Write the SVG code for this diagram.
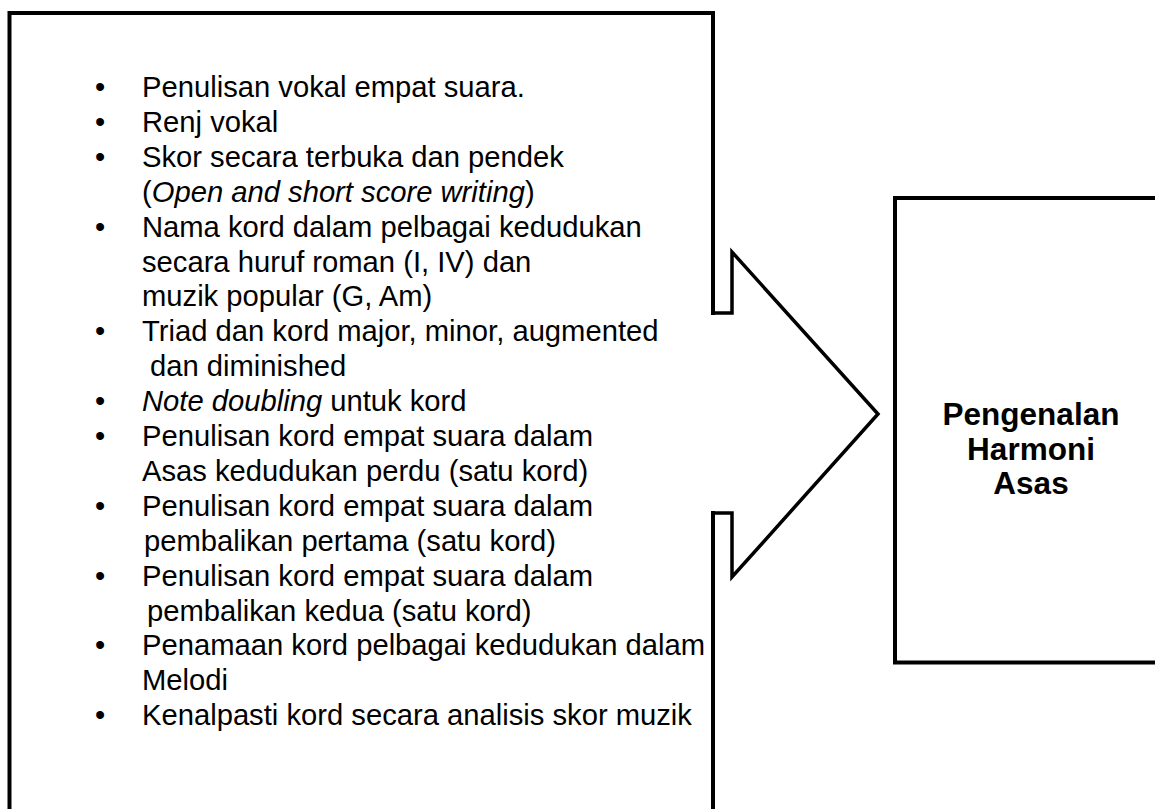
<svg xmlns="http://www.w3.org/2000/svg" width="1155" height="809" viewBox="0 0 1155 809">
<style>
.frame{fill:none;stroke:#000;stroke-width:4;stroke-linecap:square;stroke-linejoin:miter}
.arrow{fill:none;stroke:#000;stroke-width:3.5;stroke-linecap:square;stroke-linejoin:miter}
.t{font-family:"Liberation Sans",Arial,sans-serif;font-size:29.2px;fill:#000}
.b{text-anchor:middle}
.h{font-family:"Liberation Sans",Arial,sans-serif;font-size:31.5px;font-weight:bold;fill:#000;text-anchor:middle}
.i{font-style:italic}
</style>
<rect width="1155" height="809" fill="#fff"/>
<g id="content-box">
<path class="frame" d="M713,313 V13 H9.5 V830 H713 V513"/>
<g class="t">
<text class="b" x="100" y="97">•</text><text x="142" y="97">Penulisan vokal empat suara.</text>
<text class="b" x="100" y="131.9">•</text><text x="142" y="131.9">Renj vokal</text>
<text class="b" x="100" y="166.8">•</text><text x="142" y="166.8">Skor secara terbuka dan pendek</text>
<text x="142" y="201.7">(<tspan class="i">Open and short score writing</tspan>)</text>
<text class="b" x="100" y="236.6">•</text><text x="142" y="236.6">Nama kord dalam pelbagai kedudukan</text>
<text x="142" y="271.5">secara huruf roman (I, IV) dan</text>
<text x="142" y="306.4">muzik popular (G, Am)</text>
<text class="b" x="100" y="341.3">•</text><text x="142" y="341.3">Triad dan kord major, minor, augmented</text>
<text x="150" y="376.2">dan diminished</text>
<text class="b" x="100" y="411.1">•</text><text x="142" y="411.1"><tspan class="i">Note doubling</tspan> untuk kord</text>
<text class="b" x="100" y="446">•</text><text x="142" y="446">Penulisan kord empat suara dalam</text>
<text x="142" y="480.9">Asas kedudukan perdu (satu kord)</text>
<text class="b" x="100" y="515.8">•</text><text x="142" y="515.8">Penulisan kord empat suara dalam</text>
<text x="144" y="550.7">pembalikan pertama (satu kord)</text>
<text class="b" x="100" y="585.6">•</text><text x="142" y="585.6">Penulisan kord empat suara dalam</text>
<text x="147" y="620.5">pembalikan kedua (satu kord)</text>
<text class="b" x="100" y="655.4">•</text><text x="142" y="655.4">Penamaan kord pelbagai kedudukan dalam</text>
<text x="142" y="690.3">Melodi</text>
<text class="b" x="100" y="725.2">•</text><text x="142" y="725.2">Kenalpasti kord secara analisis skor muzik</text>
</g>
</g>
<g id="connectors">
<path class="arrow" d="M713,313 H732 V252 L878,414 L732,577 V513 H713"/>
</g>
<g id="title-box">
<rect class="frame" x="895" y="198" width="280" height="464.5"/>
<text class="h" x="1031" y="425">Pengenalan</text>
<text class="h" x="1031" y="459.5">Harmoni</text>
<text class="h" x="1031" y="494">Asas</text>
</g>
</svg>
